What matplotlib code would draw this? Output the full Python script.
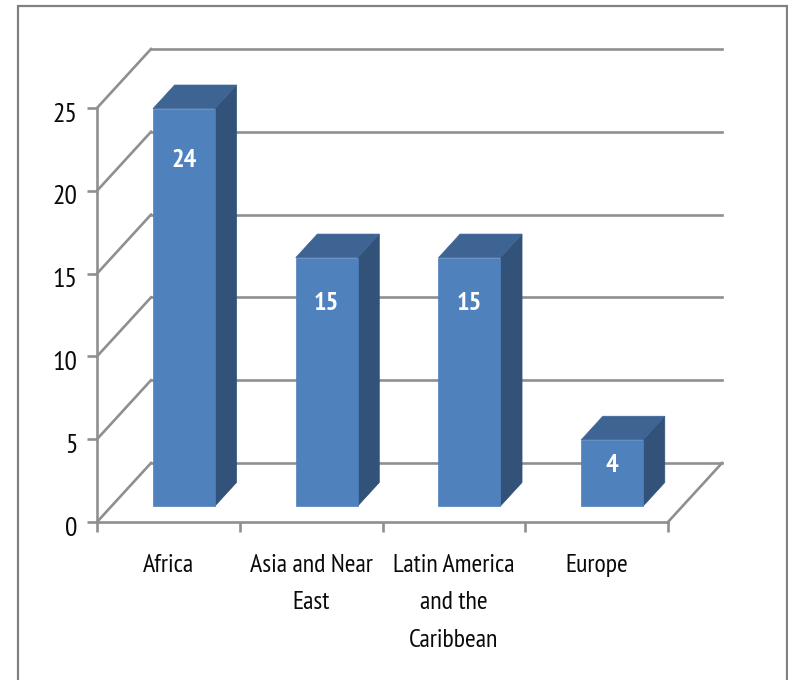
import matplotlib
matplotlib.use("Agg")
import matplotlib.pyplot as plt
from matplotlib import font_manager as fm
from matplotlib.patches import Polygon, Rectangle
from matplotlib.transforms import ScaledTranslation

# chart data
categories = ["Africa", "Asia and Near\nEast", "Latin America\nand the\nCaribbean", "Europe"]
values = [24, 15, 15, 4]
y_ticks = [0, 5, 10, 15, 20, 25]

# how far the box recedes, in category / value units
DEPTH_X = 54 / 142.75
DEPTH_Y = 59 / 16.56
GRID = "#8f8f8f"
FRONT = "#4f81bd"
TOP = "#3e6494"
SIDE = "#325279"
LW = 1.9

# narrow face if there is one, otherwise the plainest one we are promised
installed = {f.name for f in fm.fontManager.ttflist}
FONT = next(n for n in ["PT Sans Narrow", "Archivo Narrow", "Liberation Sans Narrow", "Roboto", "DejaVu Sans"]
            if n in installed)


def shift(x, v, d):
    return x + d * DEPTH_X, v + d * DEPTH_Y


fig = plt.figure(figsize=(7.88, 6.8), dpi=100)

# outer frame of the chart area
fig.add_artist(Rectangle((18 / 788, -0.05), (787 - 18) / 788, 1.05 - 6 / 680, transform=fig.transFigure,
                         fill=False, edgecolor="#808080", linewidth=1.6))

ax = fig.add_axes([97 / 788, (680 - 522) / 680, 571 / 788, 414 / 680])
ax.set_xlim(0, len(categories))
ax.set_ylim(0, 25)
ax.patch.set_visible(False)

# walls and floor
for t in y_ticks:
    bx, by = shift(0, t, 1)
    ax.plot([0, bx], [t, by], color=GRID, lw=LW, clip_on=False, zorder=1)
    ax.plot([bx, bx + len(categories)], [by, by], color=GRID, lw=LW, clip_on=False, zorder=1)
bx, by = shift(len(categories), 0, 1)
ax.plot([len(categories), bx], [0, by], color=GRID, lw=LW, clip_on=False, zorder=1)

# bars
bar_left = 0.29
bar_width = 0.434
d0 = 0.27
d1 = 0.67
label_drop = [3.16, 2.79, 2.79, 1.52]
for i, val in enumerate(values):
    x0 = i + bar_left
    x1 = x0 + bar_width
    front = [shift(x0, 0, d0), shift(x1, 0, d0), shift(x1, val, d0), shift(x0, val, d0)]
    top = [shift(x0, val, d0), shift(x1, val, d0), shift(x1, val, d1), shift(x0, val, d1)]
    side = [shift(x1, 0, d0), shift(x1, 0, d1), shift(x1, val, d1), shift(x1, val, d0)]
    for pts, col in [(side, SIDE), (top, TOP), (front, FRONT)]:
        ax.add_patch(Polygon(pts, closed=True, facecolor=col, edgecolor=col, linewidth=0.5,
                             clip_on=False, zorder=3))
    lx, ly = shift(x0 + bar_width / 2, val - label_drop[i], d0)
    ax.text(lx, ly, str(val), color="white", fontsize=19, fontweight="bold", family=FONT,
            ha="center", va="center", zorder=4)

# axes, ticks, labels
for name in ["top", "right"]:
    ax.spines[name].set_visible(False)
for name in ["left", "bottom"]:
    ax.spines[name].set_color(GRID)
    ax.spines[name].set_linewidth(LW)
    ax.spines[name].set_zorder(2)

ax.set_yticks(y_ticks)
ax.set_yticklabels([str(t) for t in y_ticks], family=FONT, fontsize=20, color="#0a0a0a")
ax.tick_params(axis="y", length=7, width=LW, color=GRID, pad=7)
# the numbers sit a little under their ticks
nudge = ScaledTranslation(0, -4 / 100, fig.dpi_scale_trans)
for lab in ax.get_yticklabels():
    lab.set_transform(lab.get_transform() + nudge)

ax.set_xticks([i + 0.5 for i in range(len(categories))])
ax.set_xticklabels(categories, family=FONT, fontsize=18.6, color="#0a0a0a", linespacing=1.8)
ax.set_xticks(range(len(categories) + 1), minor=True)
ax.tick_params(axis="x", which="major", length=0, pad=23)
ax.tick_params(axis="x", which="minor", length=7, width=LW, color=GRID)

fig.savefig("out.png", dpi=100)
